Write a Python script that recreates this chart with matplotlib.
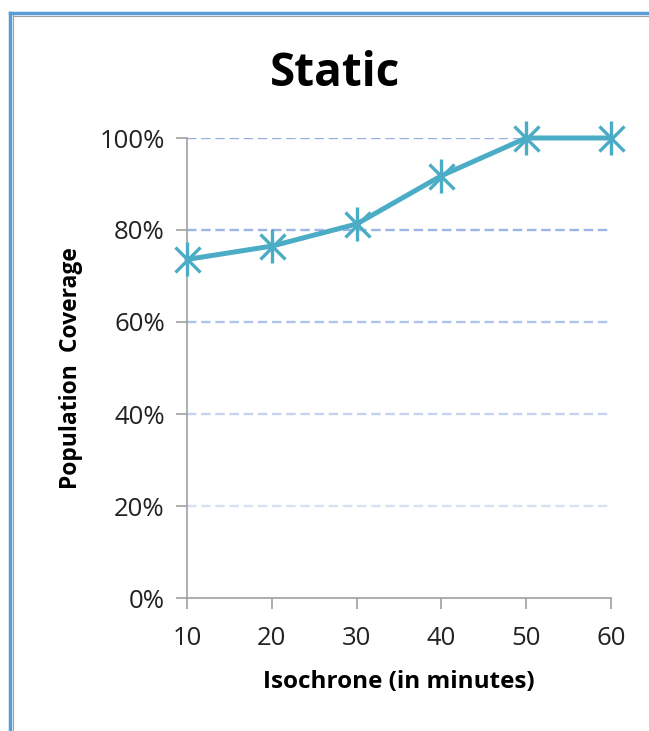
import matplotlib.pyplot as plt
from matplotlib.lines import Line2D

plt.rcParams['font.family'] = ['Open Sans', 'DejaVu Sans']

minutes = [10, 20, 30, 40, 50, 60]
coverage = [73.6, 76.5, 81.3, 91.8, 100, 100]
y_ticks = [0, 20, 40, 60, 80, 100]
grid_colors = {20: '#d8e1f4', 40: '#c4d3f0', 60: '#afc3ec', 80: '#9cb4e6', 100: '#94ade3'}

fig = plt.figure(figsize=(6.49, 7.31), dpi=100)
ax = fig.add_axes([187/649, 1 - 598/731, (611-187)/649, (598-138)/731])

for v, c in grid_colors.items():
    ax.axhline(v, color=c, lw=1.7, ls=(0, (4, 2)), zorder=1)

ax.plot(minutes, coverage, color='#4bacc6', lw=3.6, zorder=3, solid_capstyle='round', clip_on=False)
ax.plot(minutes, coverage, ls='none', marker='x', ms=18, mew=2.4, color='#4bacc6', zorder=4, clip_on=False)
ax.plot(minutes, coverage, ls='none', marker='|', ms=25, mew=2.4, color='#4bacc6', zorder=4, clip_on=False)

ax.set_xlim(10, 60)
ax.set_ylim(0, 100)
ax.set_xticks(minutes)
ax.set_yticks(y_ticks)
ax.set_yticklabels([f'{v}%' for v in y_ticks])
ax.tick_params(direction='out', length=8, width=1.2, color='#a0a0a0', labelsize=18.5,
               labelcolor='#222222')
ax.tick_params(axis='y', pad=8)
ax.tick_params(axis='x', pad=12)
for s in ['top', 'right']:
    ax.spines[s].set_visible(False)
for s in ['left', 'bottom']:
    ax.spines[s].set_color('#a0a0a0')
    ax.spines[s].set_linewidth(1.2)
ax.spines['left'].set_zorder(2)
ax.patch.set_alpha(0)

ax.set_xlabel('Isochrone (in minutes)', fontsize=17.5, fontweight='bold', labelpad=14)
ax.set_ylabel('Population  Coverage', fontsize=16.5, fontweight='bold', labelpad=12)
fig.text(335/649, 1 - 74/731, 'Static', ha='center', va='center', fontsize=33, fontweight='bold')

# outer frame
fig.add_artist(Line2D([10/649, 10/649], [0, 1 - 13/731], color='#5b9bd5', lw=2.5, transform=fig.transFigure))
fig.add_artist(Line2D([10/649, 1], [1 - 13/731, 1 - 13/731], color='#5b9bd5', lw=2.5, transform=fig.transFigure))
fig.add_artist(Line2D([12.5/649, 12.5/649], [0, 1 - 15/731], color='#a0a0a0', lw=0.8, transform=fig.transFigure))
fig.add_artist(Line2D([12.5/649, 1], [1 - 15.5/731, 1 - 15.5/731], color='#a0a0a0', lw=0.8, transform=fig.transFigure))

fig.savefig('out.png', dpi=100)
